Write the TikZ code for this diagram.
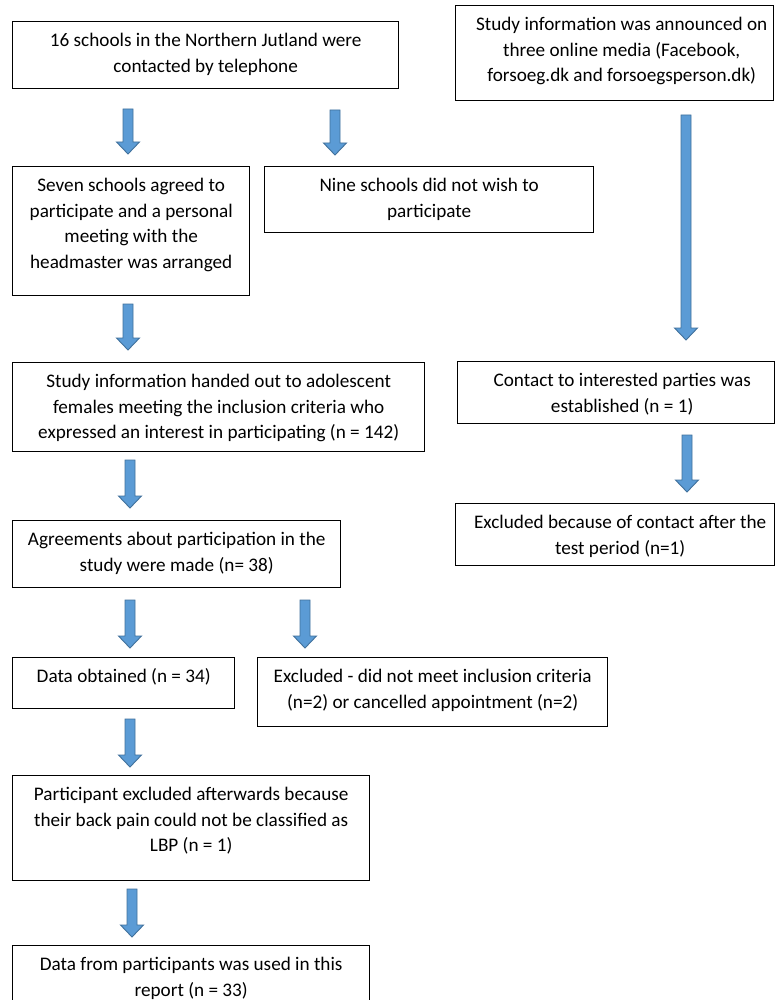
\documentclass[tikz,border=0pt]{standalone}
\usepackage{fontspec}
\setmainfont{Carlito}
\usetikzlibrary{calc}
\definecolor{arrfill}{HTML}{5B9BD5}
\definecolor{arrline}{HTML}{41719C}
\tikzset{
  box/.style={draw=black, line width=1.4pt, inner sep=0pt, fill=white},
  barrow/.style={fill=arrfill, draw=arrline, line width=0.9pt, line join=miter}
}
% #1 name, #2 x, #3 y, #4 width, #5 height, #6 text shift, #7 text
\newcommand\flowbox[7]{%
  \node[box, anchor=north west] (#1) at (#2,#3)
    {\hspace*{#6pt}\parbox[c][#5pt][t]{\dimexpr#4pt-#6pt\relax}{\centering\fontsize{19.2pt}{25.5pt}\selectfont\rule{0pt}{25pt}#7\par}};}
\newcommand\blockarrow[2]{%
  \draw[barrow] let \p1=(#1), \p2=(#2) in
    (\x1-5pt,\y1) -- (\x1+5pt,\y1) -- (\x1+5pt,\y2+12pt) -- (\x1+11.5pt,\y2+12pt)
    -- (\x1,\y2) -- (\x1-11.5pt,\y2+12pt) -- (\x1-5pt,\y2+12pt) -- cycle;}
\begin{document}
\begin{tikzpicture}[x=1pt,y=-1pt]
\useasboundingbox[fill=white] (0,0) rectangle (775,1000);
% boxes
\flowbox{b1}{12}{21}{386}{67}{0}{16 schools in the Northern Jutland were\\ contacted by telephone}
\flowbox{r1}{455}{5}{318}{95}{14}{Study information was announced on\\ three online media (Facebook,\\ forsoeg.dk and forsoegsperson.dk)}
\flowbox{b2}{12}{166}{237}{129}{0}{Seven schools agreed to\\ participate and a personal\\ meeting with the\\ headmaster was arranged}
\flowbox{b3}{264}{166}{329}{66}{0}{Nine schools did not wish to\\ participate}
\flowbox{b4}{12}{362}{412}{89}{0}{Study information handed out to adolescent\\ females meeting the inclusion criteria who\\ expressed an interest in participating (n = 142)}
\flowbox{r2}{457}{361}{317}{62}{12}{Contact to interested parties was\\ established (n = 1)}
\flowbox{r3}{455}{503}{319}{62}{10}{Excluded because of contact after the\\ test period (n=1)}
\flowbox{b5}{12}{520}{328}{67}{0}{Agreements about participation in the\\ study were made (n= 38)}
\flowbox{b6}{12}{657}{222}{51}{0}{Data obtained (n = 34)}
\flowbox{b7}{257}{657}{350}{69}{0}{Excluded - did not meet inclusion criteria\\ (n=2) or cancelled appointment (n=2)}
\flowbox{b8}{12}{775}{357}{105}{0}{Participant excluded afterwards because\\ their back pain could not be classified as\\ LBP (n = 1)}
\flowbox{b9}{12}{945}{357}{65}{0}{Data from participants was used in this\\ report (n = 33)}
% arrow end points
\coordinate (a1s) at (128,109); \coordinate (a1e) at (128,154);
\coordinate (a2s) at (335,110); \coordinate (a2e) at (335,155);
\coordinate (ar1s) at (686,115); \coordinate (ar1e) at (686,340);
\coordinate (a3s) at (128,304); \coordinate (a3e) at (128,350);
\coordinate (ar2s) at (687,435); \coordinate (ar2e) at (687,492);
\coordinate (a4s) at (130,460); \coordinate (a4e) at (130,508);
\coordinate (a5s) at (130,600); \coordinate (a5e) at (130,648);
\coordinate (a6s) at (305,600); \coordinate (a6e) at (305,648);
\coordinate (a7s) at (130,719); \coordinate (a7e) at (130,767);
\coordinate (a8s) at (132,889); \coordinate (a8e) at (132,937);
% arrows
\blockarrow{a1s}{a1e}
\blockarrow{a2s}{a2e}
\blockarrow{ar1s}{ar1e}
\blockarrow{a3s}{a3e}
\blockarrow{ar2s}{ar2e}
\blockarrow{a4s}{a4e}
\blockarrow{a5s}{a5e}
\blockarrow{a6s}{a6e}
\blockarrow{a7s}{a7e}
\blockarrow{a8s}{a8e}
\end{tikzpicture}
\end{document}
